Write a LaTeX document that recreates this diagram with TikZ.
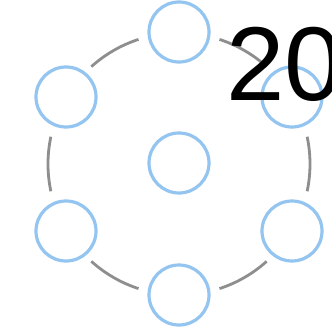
\documentclass[tikz,border=0pt]{standalone}
\usepackage{fontspec}
\setmainfont{Liberation Sans}
\usetikzlibrary{calc}
\definecolor{ringblue}{HTML}{93C5F0}
\definecolor{arcgray}{HTML}{8E8E8E}
\begin{document}
\begin{tikzpicture}[x=1pt,y=-1pt,
  dot/.style={circle,draw=ringblue,line width=3.2pt,minimum size=60pt,inner sep=0pt,fill=white},
  ringarc/.style={draw=arcgray,line width=2.8pt}]
\useasboundingbox (0,0) rectangle (332,332);
\clip (0,0) rectangle (332,332);
\fill[white] (0,0) rectangle (332,332);
\coordinate (c) at (179,164);
\foreach \a in {30,90,150,210,270,330}{
  \draw[ringarc] ($(c)+({-(\a+18)}:131)$) arc[start angle=-(\a+18), end angle=-(\a+42), radius=131];
}
\node[dot] (n0) at (179,32) {};
\node[dot] (n1) at (66,97) {};
\node[dot] (n2) at (292,97) {};
\node[dot] (n3) at (179,163) {};
\node[dot] (n4) at (66,231) {};
\node[dot] (n5) at (292,231) {};
\node[dot] (n6) at (179,295) {};
\node[anchor=base west,inner sep=0pt,font=\fontsize{105}{105}\selectfont] (t) at (226,100) {20};
\end{tikzpicture}
\end{document}
